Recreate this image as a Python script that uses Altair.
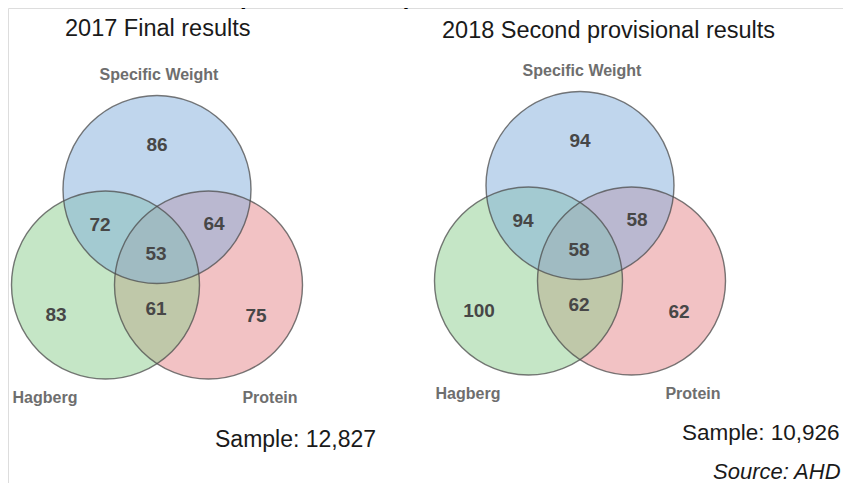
import altair as alt
import pandas as pd

# ---------------- data ----------------
panel_titles = ["2017 Final results", "2018 Second provisional results"]
sample_texts = ["Sample: 12,827", "Sample: 10,926"]
set_names = ["Specific Weight", "Hagberg", "Protein"]
region_keys = ["SW", "SW&H", "SW&P", "SW&H&P", "H", "H&P", "P"]
values_2017 = [86, 72, 64, 53, 83, 61, 75]
values_2018 = [94, 94, 58, 58, 100, 62, 62]
source_text = "Source: AHD"
header_fragment = "protein: 12.5%)"

# ---------------- layout (page pixel coordinates) ----------------
W, H = 835, 475
venn_centres = [(157, 253), (580, 249)]
R = 94
circle_offsets = {"Specific Weight": (0, -63.5), "Hagberg": (-51.5, 32), "Protein": (51.5, 32)}
circle_order = {"Protein": 0, "Hagberg": 1, "Specific Weight": 2}
circle_colors = ["#82aedb", "#8bcd8d", "#e5868a"]
region_offsets = {
    "SW": (0, -108), "SW&H": (-57, -28), "SW&P": (57, -29), "SW&H&P": (-1, 1),
    "H": (-101, 62), "H&P": (-1, 56), "P": (99, 63),
}
label_offsets = {"Specific Weight": (2, -178), "Hagberg": (-112, 145), "Protein": (113, 145)}
title_pos = [(65, 36), (442, 38)]
sample_pos = [(215, 447), (682, 440)]
sample_sizes = [23, 22.5]
source_pos = (713, 479)
header_pos = (240, 4)

# ---------------- tables ----------------
circles, regions, labels = [], [], []
for p, (cx, cy) in enumerate(venn_centres):
    for s in set_names:
        ox, oy = circle_offsets[s]
        circles.append({"panel": p, "set": s, "x": cx + ox, "y": cy + oy, "ord": circle_order[s]})
        lx, ly = label_offsets[s]
        labels.append({"x": cx + lx, "y": cy + ly, "text": s})
    vals = [values_2017, values_2018][p]
    for k, v in zip(region_keys, vals):
        rx, ry = region_offsets[k]
        regions.append({"x": cx + rx, "y": cy + ry, "text": str(v)})

circles_df = pd.DataFrame(circles)
regions_df = pd.DataFrame(regions)
labels_df = pd.DataFrame(labels)
titles_df = pd.DataFrame({"x": [t[0] for t in title_pos], "y": [t[1] for t in title_pos], "text": panel_titles})
samples_df = pd.DataFrame({"x": [t[0] for t in sample_pos], "y": [t[1] for t in sample_pos],
                           "text": sample_texts, "fs": sample_sizes})
source_df = pd.DataFrame({"x": [source_pos[0]], "y": [source_pos[1]], "text": [source_text]})
header_df = pd.DataFrame({"x": [header_pos[0]], "y": [header_pos[1]], "text": [header_fragment]})

X = alt.X("x:Q", scale=alt.Scale(domain=[8, 8 + W], nice=False, zero=False), axis=None)
Y = alt.Y("y:Q", scale=alt.Scale(domain=[8, 8 + H], nice=False, zero=False, reverse=True), axis=None)

# Vega symbol "circle": radius = sqrt(size) / 2
sym_size = (2 * R) ** 2

fills = alt.Chart(circles_df).mark_point(
    shape="circle", filled=True, size=sym_size, fillOpacity=0.5, strokeOpacity=0
).encode(
    x=X, y=Y,
    color=alt.Color("set:N", scale=alt.Scale(domain=set_names, range=circle_colors), legend=None),
    order=alt.Order("ord:Q"),
)

strokes = alt.Chart(circles_df).mark_point(
    shape="circle", filled=False, size=sym_size, strokeWidth=1.4, opacity=0.75
).encode(x=X, y=Y, color=alt.value("#4d4d4d"))

font = "Liberation Sans"

nums = alt.Chart(regions_df).mark_text(
    font=font, fontSize=19, fontWeight="bold", color="#474747", align="center", baseline="middle"
).encode(x=X, y=Y, text="text:N")

set_labels = alt.Chart(labels_df).mark_text(
    font=font, fontSize=16, fontWeight="bold", color="#6e6e6e", align="center", baseline="middle"
).encode(x=X, y=Y, text="text:N")

titles = alt.Chart(titles_df).mark_text(
    font=font, fontSize=23.5, color="#1a1a1a", align="left", baseline="alphabetic"
).encode(x=X, y=Y, text="text:N")

samples = alt.Chart(samples_df).mark_text(
    font=font, color="#1a1a1a", align="left", baseline="alphabetic"
).encode(x=X, y=Y, text="text:N", size=alt.Size("fs:Q", scale=None, legend=None))

source = alt.Chart(source_df).mark_text(
    font=font, fontSize=22, fontStyle="italic", color="#1a1a1a", align="left", baseline="alphabetic"
).encode(x=X, y=Y, text="text:N")

header = alt.Chart(header_df).mark_text(
    font=font, fontSize=24, fontWeight="bold", color="#000000", align="left", baseline="alphabetic"
).encode(x=X, y=Y, text="text:N")

chart = alt.layer(fills, strokes, nums, set_labels, titles, samples, source, header).properties(
    width=W, height=H, padding=0, autosize=alt.AutoSizeParams(type="none")
).configure_view(stroke="transparent", strokeWidth=0).configure(background="white")

chart.save("out.html", embed_options={"renderer": "svg", "actions": False})
